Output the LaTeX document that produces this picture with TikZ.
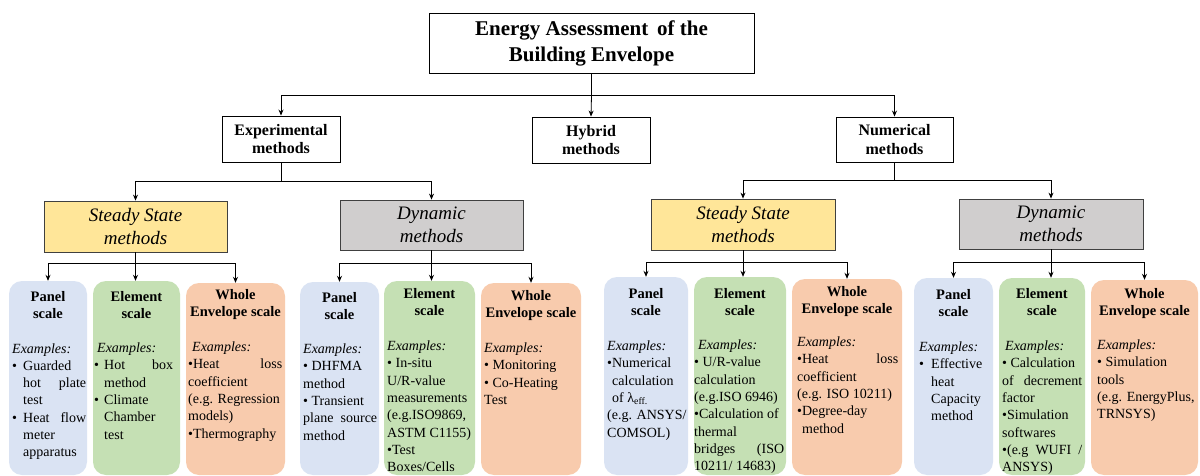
\documentclass[tikz,border=0pt]{standalone}
\usepackage{fontspec}
\setmainfont{Liberation Serif}
\usetikzlibrary{arrows.meta,calc}
\definecolor{panelc}{HTML}{DAE3F3}
\definecolor{elemc}{HTML}{C5E0B4}
\definecolor{wholec}{HTML}{F8CBAD}
\definecolor{ssc}{HTML}{FFE699}
\definecolor{dync}{HTML}{D0CECE}
\newcommand\fs[2]{\fontsize{#1}{#2}\selectfont}
\newcommand\jl[2]{\hspace*{#1}\makebox[\dimexpr\linewidth-#1\relax][s]{#2}}
\newcommand\bj[2]{\makebox[#1][l]{•}\makebox[\dimexpr\linewidth-#1\relax][s]{#2}}
\newcommand\bu[1]{\makebox[#1][l]{•}}
\newcommand\hd[2]{\begin{tabular}[t]{@{}c@{}}#1\\#2\end{tabular}}
\tikzset{
 x=1pt,y=-1pt,
 topbox/.style={draw=black, line width=0.9pt, font=\bfseries\fs{21}{26}, align=center, inner sep=0pt},
 midbox/.style={draw=black, line width=0.9pt, font=\bfseries\fs{16}{18.5}, align=center, inner sep=0pt},
 methbox/.style={draw=black!75, line width=0.8pt, font=\itshape\fs{19}{22.5}, align=center, inner sep=0pt},
 scalebox/.style={rounded corners=13pt, inner sep=0pt},
 arr/.style={-{Stealth[length=6pt,width=5pt]}, line width=0.8pt},
 conn/.style={line width=0.8pt},
 head/.style={anchor=base, inner sep=0pt, font=\bfseries\fs{14.5}{17.5}},
 body/.style={anchor=base west, inner sep=0pt, font=\fs{14}{17.3}},
}
\begin{document}
\begin{tikzpicture}
\useasboundingbox (0,0) rectangle (1200,476);
\fill[white] (0,0) rectangle (1200,476);

% top levels
\node[topbox, minimum width=325pt, minimum height=60pt] (title) at (591.5,43) {Energy Assessment\, of the\\Building Envelope};
\node[midbox, minimum width=118pt, minimum height=46pt] (exp) at (281,139) {Experimental\\methods};
\node[midbox, minimum width=118pt, minimum height=46pt] (hyb) at (591,140) {Hybrid\\methods};
\node[midbox, minimum width=117pt, minimum height=45pt] (num) at (894.5,139.5) {Numerical\\methods};

\node[methbox, fill=ssc, minimum width=183pt, minimum height=51pt] (ss1) at (135.5,226.5) {Steady State\\methods};
\node[methbox, fill=dync, minimum width=183pt, minimum height=50pt] (dyn1) at (431.5,225) {Dynamic\\methods};
\node[methbox, fill=ssc, minimum width=184pt, minimum height=51pt] (ss2) at (743,224.5) {Steady State\\methods};
\node[methbox, fill=dync, minimum width=184pt, minimum height=50pt] (dyn2) at (1051,224) {Dynamic\\methods};

% scale boxes
\node[scalebox, fill=panelc, minimum width=78pt, minimum height=194pt] (b1) at (48,378) {};
\node[scalebox, fill=elemc, minimum width=87pt, minimum height=194pt] (b2) at (136.5,378) {};
\node[scalebox, fill=wholec, minimum width=99pt, minimum height=192pt] (b3) at (235.5,379) {};
\node[scalebox, fill=panelc, minimum width=79pt, minimum height=193pt] (b4) at (339.5,378.5) {};
\node[scalebox, fill=elemc, minimum width=91pt, minimum height=194pt] (b5) at (429.5,378) {};
\node[scalebox, fill=wholec, minimum width=100pt, minimum height=192pt] (b6) at (531,379) {};
\node[scalebox, fill=panelc, minimum width=84pt, minimum height=198pt] (b7) at (646,376) {};
\node[scalebox, fill=elemc, minimum width=92pt, minimum height=198pt] (b8) at (740,376) {};
\node[scalebox, fill=wholec, minimum width=110pt, minimum height=196pt] (b9) at (847,377) {};
\node[scalebox, fill=panelc, minimum width=79pt, minimum height=197pt] (b10) at (953.5,376.5) {};
\node[scalebox, fill=elemc, minimum width=86pt, minimum height=197pt] (b11) at (1042,376.5) {};
\node[scalebox, fill=wholec, minimum width=107pt, minimum height=195pt] (b12) at (1144.5,377.5) {};

% headings
\node[head] (h1) at (48,301) {\hd{Panel}{scale}};
\node[head] (h2) at (136.5,301) {\hd{Element}{scale}};
\node[head] (h3) at (235.5,299) {\hd{Whole}{Envelope scale}};
\node[head] (h4) at (339.5,302) {\hd{Panel}{scale}};
\node[head] (h5) at (429.5,298) {\hd{Element}{scale}};
\node[head] (h6) at (531,300) {\hd{Whole}{Envelope scale}};
\node[head] (h7) at (646,298) {\hd{Panel}{scale}};
\node[head] (h8) at (740,298) {\hd{Element}{scale}};
\node[head] (h9) at (847,296) {\hd{Whole}{Envelope scale}};
\node[head] (h10) at (953.5,299) {\hd{Panel}{scale}};
\node[head] (h11) at (1042,298) {\hd{Element}{scale}};
\node[head] (h12) at (1144.5,298) {\hd{Whole}{Envelope scale}};

% bodies
\node[body] (t1) at (12,353) {\parbox[t]{74pt}{\textit{Examples:}\\
\bu{11pt}Guarded\\
\jl{11pt}{hot plate}\\
\hspace*{11pt}test\\
\bj{11pt}{Heat flow}\\
\hspace*{11pt}meter\\
\hspace*{11pt}apparatus}};
\node[body] (t2) at (94,352.5) {\parbox[t]{79pt}{\hspace*{3pt}\textit{Examples:}\\
\bj{10pt}{Hot box}\\
\hspace*{10pt}method\\
\bu{10pt}Climate\\
\hspace*{10pt}Chamber\\
\hspace*{10pt}test}};
\node[body] (t3) at (188,351.5) {\parbox[t]{94pt}{\hspace*{4pt}\textit{Examples:}\\
\makebox[\linewidth][s]{•Heat loss}\\
coefficient\\
(e.g. Regression\\
models)\\
•Thermography}};
\node[body] (t4) at (303,353.5) {\parbox[t]{74pt}{\textit{Examples:}\\
• DHFMA\\
method\\
• Transient\\
\makebox[\linewidth][s]{plane source}\\
method}};
\node[body] (t5) at (387,350.5) {\parbox[t]{85pt}{\textit{Examples:}\\
• In-situ\\
U/R-value\\
measurements\\
(e.g.ISO9869,\\
ASTM C1155)\\
•Test\\
Boxes/Cells}};
\node[body] (t6) at (484,352.5) {\parbox[t]{95pt}{\textit{Examples:}\\
• Monitoring\\
• Co-Heating\\
Test}};
\node[body] (t7) at (607,350.5) {\parbox[t]{81pt}{\textit{Examples:}\\
•Numerical\\
\hspace*{5pt}calculation\\
\hspace*{5pt}of λ\textsubscript{eff.}\\
(e.g. ANSYS/\\
COMSOL)}};
\node[body] (t8) at (694,349.5) {\parbox[t]{90pt}{\hspace*{4pt}\textit{Examples:}\\
• U/R-value\\
calculation\\
(e.g.ISO 6946)\\
•Calculation of\\
thermal\\
\makebox[\linewidth][s]{bridges (ISO}\\
10211/ 14683)}};
\node[body] (t9) at (797,346.5) {\parbox[t]{101pt}{\textit{Examples:}\\
\makebox[\linewidth][s]{•Heat loss}\\
coefficient\\
(e.g. ISO 10211)\\
•Degree-day\\
\hspace*{5pt}method}};
\node[body] (t10) at (919,351.5) {\parbox[t]{72pt}{\textit{Examples:}\\
\bu{12pt}Effective\\
\hspace*{12pt}heat\\
\hspace*{12pt}Capacity\\
\hspace*{12pt}method}};
\node[body] (t11) at (1002,350.5) {\parbox[t]{80pt}{\hspace*{3pt}\textit{Examples:}\\
• Calculation\\
\makebox[\linewidth][s]{of decrement}\\
factor\\
•Simulation\\
softwares\\
\makebox[\linewidth][s]{•(e.g WUFI /}\\
ANSYS)}};
\node[body] (t12) at (1097,349.5) {\parbox[t]{100pt}{\textit{Examples:}\\
• Simulation\\
tools\\
(e.g. EnergyPlus,\\
TRNSYS)}};

% connectors
\draw[conn] (title.south) -- ++(0,22) coordinate (bus0);
\draw[arr] (bus0) -| (exp.north);
\draw[arr] (bus0) -| (num.north);
\draw[arr] (bus0) -- (hyb.north);

\draw[conn] (exp.south) -- ++(0,19) coordinate (bus1);
\draw[arr] (bus1) -| (ss1.north);
\draw[arr] (bus1) -| (dyn1.north);

\draw[conn] (num.south) -- ++(0,18) coordinate (bus2);
\draw[arr] (bus2) -| (ss2.north);
\draw[arr] (bus2) -| (dyn2.north);

\draw[conn] (ss1.south) -- ++(0,11) coordinate (bus3);
\draw[arr] (bus3) -| (b1.north);
\draw[arr] (bus3) -- (bus3 |- b2.north);
\draw[arr] (bus3) -| (b3.north);

\draw[conn] (dyn1.south) -- ++(0,13) coordinate (bus4);
\draw[arr] (bus4) -| (b4.north);
\draw[arr] (bus4) -- (bus4 |- b5.north);
\draw[arr] (bus4) -| (b6.north);

\draw[conn] (ss2.south) -- ++(0,12) coordinate (bus5);
\draw[arr] (bus5) -| (b7.north);
\draw[arr] (bus5) -- (bus5 |- b8.north);
\draw[arr] (bus5) -| (b9.north);

\draw[conn] (dyn2.south) -- ++(0,13) coordinate (bus6);
\draw[arr] (bus6) -| (b10.north);
\draw[arr] (bus6) -- (bus6 |- b11.north);
\draw[arr] (bus6) -| (b12.north);
\end{tikzpicture}
\end{document}
